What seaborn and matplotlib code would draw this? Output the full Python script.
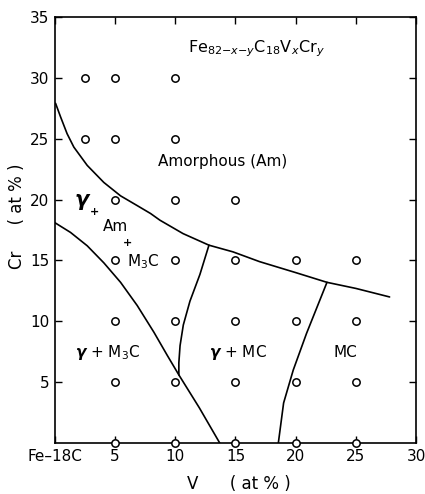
import matplotlib
matplotlib.use("Agg")
import matplotlib.pyplot as plt
import seaborn as sns
import pandas as pd

# Sample compositions (V at%, Cr at%)
pts_v = [2.5, 5, 10, 2.5, 5, 10, 5, 10, 15,
         5, 10, 15, 20, 25,
         5, 10, 15, 20, 25,
         5, 10, 15, 20, 25,
         5, 10, 15, 20, 25]
pts_cr = [30, 30, 30, 25, 25, 25, 20, 20, 20,
          15, 15, 15, 15, 15,
          10, 10, 10, 10, 10,
          5, 5, 5, 5, 5,
          0, 0, 0, 0, 0]

# Phase boundaries
b_am_v = [0.06, 0.47, 1.02, 1.58, 2.69, 4.07, 5.46, 6.84, 7.95, 8.73,
          10.65, 12.8, 14.8, 17.0, 20.0, 22.6, 25.0, 27.8]
b_am_cr = [27.9, 26.8, 25.4, 24.3, 22.8, 21.4, 20.3, 19.5, 18.85, 18.3,
           17.2, 16.25, 15.7, 14.9, 14.0, 13.2, 12.7, 12.0]

b_m3c_v = [0.0, 1.3, 2.69, 4.07, 5.46, 6.84, 8.23, 9.34, 10.3, 12.0, 13.7]
b_m3c_cr = [18.1, 17.3, 16.2, 14.8, 13.2, 11.3, 9.1, 7.2, 5.6, 2.9, 0.0]

b_mc1_v = [10.3, 10.3, 10.4, 10.67, 11.22, 12.05, 12.8]
b_mc1_cr = [5.6, 6.6, 8.0, 9.7, 11.65, 13.85, 16.25]

b_mc2_v = [18.56, 19.0, 19.8, 20.9, 22.6]
b_mc2_cr = [0.0, 3.3, 6.0, 9.0, 13.2]

xticks = [0, 5, 10, 15, 20, 25, 30]
xticklabels = ["Fe\u201318C", "5", "10", "15", "20", "25", "30"]
yticks = [5, 10, 15, 20, 25, 30, 35]

sns.set_style("ticks")
plt.rcParams['font.family'] = ['DejaVu Sans']
plt.rcParams['mathtext.fontset'] = 'dejavusans'
plt.rcParams['text.color'] = 'black'
plt.rcParams['axes.labelcolor'] = 'black'

fig = plt.figure(figsize=(4.25, 4.94), dpi=100)
ax = fig.add_axes([0.129, 0.103, 0.850, 0.863])

for bv, bc in [(b_am_v, b_am_cr), (b_m3c_v, b_m3c_cr), (b_mc1_v, b_mc1_cr), (b_mc2_v, b_mc2_cr)]:
    df = pd.DataFrame({"V": bv, "Cr": bc})
    sns.lineplot(data=df, x="V", y="Cr", sort=False, estimator=None,
                 color="black", lw=1.2, ax=ax)

pdf = pd.DataFrame({"V": pts_v, "Cr": pts_cr})
sns.scatterplot(data=pdf, x="V", y="Cr", marker="o", s=28, facecolor="white",
                edgecolor="black", linewidth=1.1, ax=ax, zorder=5, clip_on=False)

ax.set_xlim(0, 30)
ax.set_ylim(0, 35)
ax.set_xticks(xticks)
ax.set_xticklabels(xticklabels)
ax.set_yticks(yticks)
ax.tick_params(direction="in", length=5, width=1, top=True, right=True,
               labelsize=11, colors="black", pad=4)
for s in ax.spines.values():
    s.set_linewidth(1.2)
    s.set_color("black")

ax.set_xlabel("V      ( at % )", fontsize=12)
ax.set_ylabel("Cr     ( at % )", fontsize=12)
ax.xaxis.set_label_coords(0.51, -0.075)
ax.yaxis.set_label_coords(-0.08, 0.532)

ax.text(16.7, 32.4, r"Fe$_{82\mathrm{-}x\mathrm{-}y}$C$_{18}$V$_x$Cr$_y$",
        ha="center", va="center", fontsize=11.5)
ax.text(13.9, 23.1, "Amorphous (Am)", ha="center", va="center", fontsize=11)
ax.text(2.3, 19.8, r"$\boldsymbol{\gamma}$", ha="center", va="center", fontsize=15)
ax.text(3.3, 19.0, "+", ha="center", va="center", fontsize=8, fontweight="bold")
ax.text(5.0, 17.8, "Am", ha="center", va="center", fontsize=11)
ax.text(6.0, 16.4, "+", ha="center", va="center", fontsize=8, fontweight="bold")
ax.text(7.3, 14.9, r"M$_3$C", ha="center", va="center", fontsize=11)
ax.text(4.4, 7.4, r"$\boldsymbol{\gamma}$ + M$_3$C", ha="center", va="center", fontsize=11)
ax.text(15.2, 7.4, r"$\boldsymbol{\gamma}$ + MC", ha="center", va="center", fontsize=11)
ax.text(24.1, 7.4, "MC", ha="center", va="center", fontsize=11)

fig.savefig("out.png", dpi=100)
